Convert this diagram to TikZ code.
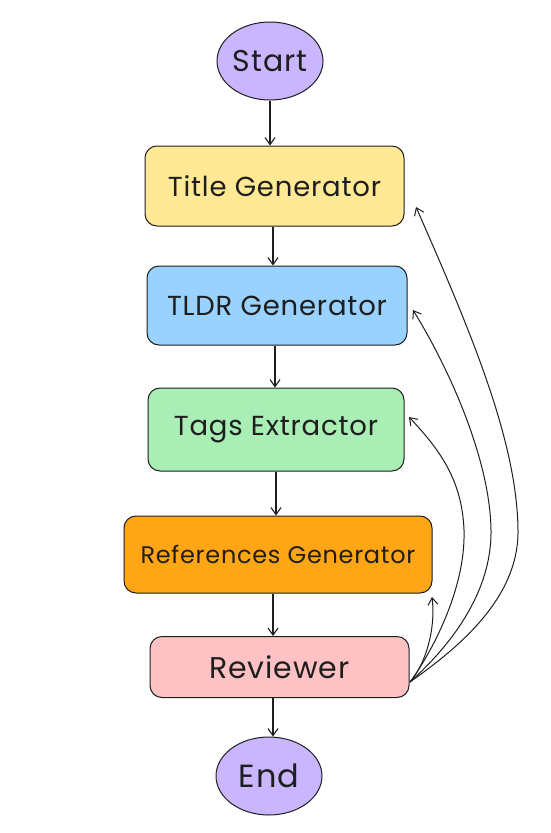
\documentclass[tikz,border=0pt]{standalone}
\usepackage{fontspec}
\setmainfont{Poppins}[LetterSpace=3]
\usetikzlibrary{arrows.meta,shapes.geometric}
\definecolor{ink}{HTML}{1E1E1E}
\definecolor{cstart}{HTML}{C9B6FF}
\definecolor{ctitle}{HTML}{FFE995}
\definecolor{ctldr}{HTML}{99D2FF}
\definecolor{ctags}{HTML}{A8EEB5}
\definecolor{crefs}{HTML}{FFA516}
\definecolor{crev}{HTML}{FFC2C4}
\tikzset{
  x=1pt, y=-1pt,
  every node/.style={text=ink},
  boxnode/.style={draw=ink, line width=1pt, rounded corners=12pt, inner sep=0pt, anchor=center},
  ovalnode/.style={draw=ink, line width=1pt, ellipse, fill=cstart, inner sep=0pt, minimum width=106pt, minimum height=78pt},
  flow/.style={draw=ink, line width=1.1pt, -{Straight Barb[length=7pt,width=10pt]}},
  back/.style={draw=ink, line width=1pt, -{Straight Barb[length=7pt,width=10pt]}},
  lbl/.style={font=\fontsize{27.5}{30}\selectfont},
  smalllbl/.style={font=\fontsize{24}{28}\selectfont},
  biglbl/.style={font=\fontsize{30}{34}\selectfont}
}
\begin{document}
\begin{tikzpicture}
\useasboundingbox (0,0) rectangle (550,833);
\node[ovalnode, font=\fontsize{30}{34}\selectfont] (start) at (270,61) {Start};
\node[boxnode, fill=ctitle, minimum width=259pt, minimum height=80pt, lbl] (title) at (274.5,186) {Title Generator};
\node[boxnode, fill=ctldr, minimum width=260pt, minimum height=79pt, lbl] (tldr) at (277,305.5) {TLDR Generator};
\node[boxnode, fill=ctags, minimum width=256pt, minimum height=83pt, lbl] (tags) at (276,429.5) {Tags Extractor};
\node[boxnode, fill=crefs, minimum width=308pt, minimum height=77pt, smalllbl] (refs) at (278,554.5) {References Generator};
\node[boxnode, fill=crev, minimum width=259pt, minimum height=61pt, biglbl] (rev) at (279.5,667) {Reviewer};
\node[ovalnode, font=\fontsize{32}{36}\selectfont] (end) at (269,776) {End};

\draw[flow] (start.south) -- (start.south |- title.north);
\draw[flow] (title.south -| 273,0) -- (tldr.north -| 273,0);
\draw[flow] (tldr.south -| 275,0) -- (tags.north -| 275,0);
\draw[flow] (tags.south -| 276,0) -- (refs.north -| 276,0);
\draw[flow] (refs.south -| 273,0) -- (rev.north -| 273,0);
\draw[flow] (rev.south -| 273,0) -- (end.north -| 273,0);

\coordinate (rv) at (410,682);
\coordinate (inTitle) at (416,207);
\coordinate (inTldr) at (413,310);
\coordinate (inTags) at (409,417);
\coordinate (inRefs) at (432,597);

\draw[back] (rv) .. controls (455,650) and (519,600) .. (518,530) .. controls (517,440) and (470,330) .. (inTitle);
\draw[back] (rv) .. controls (440,655) and (492,600) .. (491,530) .. controls (490,460) and (450,370) .. (inTldr);
\draw[back] (rv) .. controls (430,655) and (466,590) .. (464,530) .. controls (462,480) and (440,450) .. (inTags);
\draw[back] (rv) .. controls (425,665) and (436,630) .. (inRefs);
\end{tikzpicture}
\end{document}
